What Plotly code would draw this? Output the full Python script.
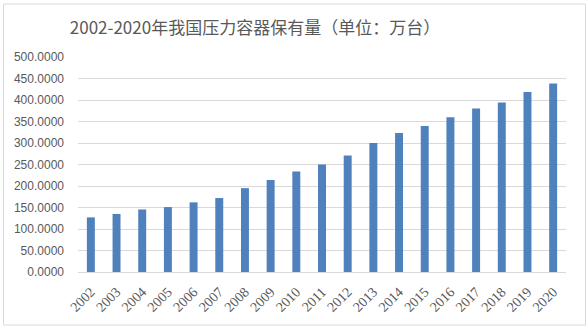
import plotly.graph_objects as go

years = [str(y) for y in range(2002, 2021)]
values = [127, 135, 145.5, 151, 162, 172, 195, 214, 234, 250, 271, 300, 323, 339.5, 359.6, 380.5, 394.4, 418.4, 438.5]
title_text = "2002-2020年我国压力容器保有量（单位：万台）"

W, H = 588, 329
L, R, T, B = 78, 22, 57, 57
pw, ph = W - L - R, H - T - B

def px_x(p):
    return (p - L) / pw

def px_y(p):
    return (H - B - p) / ph

fig = go.Figure()
fig.add_trace(go.Bar(x=years, y=values, marker=dict(color="#4f81bd", line=dict(width=0)), width=0.31))

fig.update_layout(
    width=W, height=H,
    margin=dict(l=L, r=R, t=T, b=B),
    paper_bgcolor="white", plot_bgcolor="white",
    showlegend=False,
    title=dict(text=title_text, x=px_x(255), xref="paper", xanchor="center",
               y=1 - 28 / H, yanchor="middle",
               font=dict(family="Noto Sans CJK SC", size=17, color="#595959")),
    xaxis=dict(type="category", tickangle=-45, showgrid=False, showline=False, ticks="",
               ticklabelstandoff=8,
               tickfont=dict(family="Liberation Serif", size=14, color="#595959")),
    yaxis=dict(range=[0, 500], dtick=50, tickformat=".4f", showgrid=True, gridcolor="#d9d9d9",
               gridwidth=1, zeroline=True, zerolinecolor="#d9d9d9", zerolinewidth=1, showline=False,
               ticks="", ticklabelstandoff=13,
               tickfont=dict(family="Liberation Sans", size=12, color="#595959")),
    shapes=[dict(type="rect", xref="paper", yref="paper",
                 x0=px_x(3.5), x1=px_x(585.5), y0=px_y(325), y1=px_y(4),
                 line=dict(color="#d9d9d9", width=1), fillcolor="rgba(0,0,0,0)", layer="below")],
)

fig.write_html("out.html")
